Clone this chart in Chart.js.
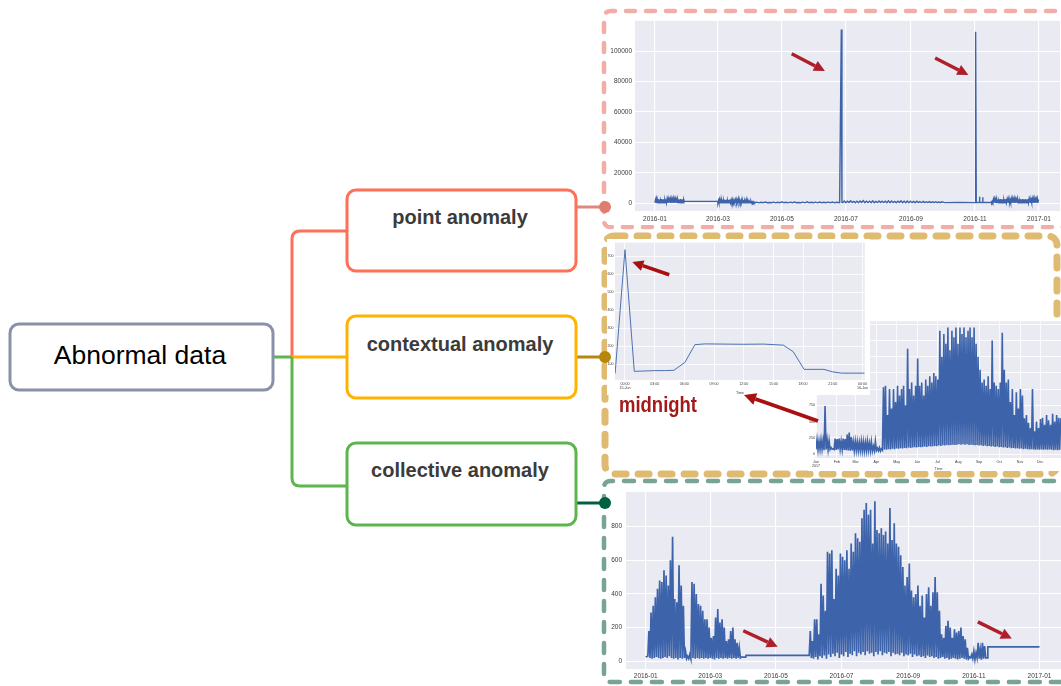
<!DOCTYPE html>
<html>
<head>
<meta charset="utf-8">
<script src="https://cdn.jsdelivr.net/npm/chart.js@4.4.1/dist/chart.umd.min.js"></script>
<style>
html,body{margin:0;padding:0;background:#fff;overflow:hidden}
#stage{position:relative;width:1061px;height:686px;overflow:hidden;font-family:"Liberation Sans",Arial,sans-serif}
svg,canvas{position:absolute}
canvas{background:#fff}
</style>
</head>
<body>
<div id="stage">
<svg id="base" width="1061" height="686" style="left:0;top:0">
  <g fill="none" stroke-linecap="round">
    <path d="M1075 11 H611 Q604 11 604 18 V220 Q604 227 611 227 H1075" stroke="#f2aea6" stroke-width="4.5" stroke-dasharray="9 11"/>
    <rect x="605" y="236" width="452" height="238" rx="9" stroke="#dfbb72" stroke-width="7" stroke-dasharray="11 12"/>
    <path d="M1075 481 H611 Q604 481 604 488 V675 Q604 682 611 682 H1075" stroke="#79a494" stroke-width="4.5" stroke-dasharray="10 11"/>
  </g>
  <g fill="none" stroke-width="3">
    <path d="M273 357 H292" stroke="#5db54d"/>
    <path d="M292 357 V239 Q292 231 300 231 H347" stroke="#ff705a"/>
    <path d="M292 357 H347" stroke="#ffb300"/>
    <path d="M292 357 V478 Q292 486 300 486 H347" stroke="#5db54d"/>
    <path d="M576 207 H605" stroke="#e2877b"/>
    <path d="M576 357 H605" stroke="#b8860b"/>
    <path d="M576 503 H605" stroke="#00603f"/>
  </g>
  <g stroke-width="3" fill="#fff">
    <rect x="10" y="324" width="263" height="66" rx="9" stroke="#8891a8"/>
    <rect x="347" y="190" width="229" height="81" rx="9" stroke="#ff7059"/>
    <rect x="347" y="316" width="229" height="82" rx="9" stroke="#ffb300"/>
    <rect x="347" y="443" width="229" height="82" rx="9" stroke="#5db54d"/>
  </g>
  <g font-family="Liberation Sans, Arial, sans-serif" text-anchor="middle">
    <text x="140" y="364" font-size="26.5" fill="#000">Abnormal data</text>
    <g font-size="20" font-weight="bold" fill="#3b3b3b">
      <text x="460" y="224">point anomaly</text>
      <text x="460" y="351">contextual anomaly</text>
      <text x="460" y="477">collective anomaly</text>
    </g>
  </g>
</svg>
<canvas id="c1" width="453" height="211" style="left:608px;top:14px"></canvas>
<canvas id="c3" width="253" height="153" style="left:808px;top:318px"></canvas>
<canvas id="c2" width="263" height="156" style="left:607px;top:239px"></canvas>
<canvas id="c4" width="453" height="195" style="left:608px;top:484px"></canvas>
<svg id="over" width="1061" height="686" style="left:0;top:0">
  <circle cx="605" cy="207" r="6" fill="#e07d6f"/>
  <circle cx="605" cy="357" r="6" fill="#b8860b"/>
  <circle cx="605" cy="503" r="6" fill="#00603f"/>
  <text x="619" y="412" font-family="Liberation Sans, Arial, sans-serif" font-size="22" font-weight="bold" fill="#a21a1a" textLength="78" lengthAdjust="spacingAndGlyphs">midnight</text>
</svg>
</div>
<script>
// ---- point anomaly (2016, days since 2016-01-01) ----
const pointTickDays = [0,60,121,182,244,305,366]
const pointTickLabels = ['2016-01','2016-03','2016-05','2016-07','2016-09','2016-11','2017-01']
const pointYTicks = [0,20000,40000,60000,80000,100000]
const pointJanPeaks = [2200,2600,1800,2700,2500,1500,2800,2400,2600,2000,2700,2500,2800,2300,2600,2700,2400,2800,2500,2600,2200,2700,2600,2400,2800,2500,2600,2300]
const pointJanLows = [400,300,500,350,300,450,300,400,350,300,500,400,300,350,400,300,450,350,300,400,350,300,450,400,300,350,400,300]
const pointFebLink = [[28,1200],[60,1200]]
const pointMarPeaks = [1800,2200,1500,2000,2400,1700,2300,2100,2500,1600,2200,2400,1900,2300,2000,1500,2100,2300,1800,2600,2200,1400,1900,1700,2100,1500,1200,1600,1400,1000,900,1300,800,1000,700]
const pointMarLows = [300,400,250,300,350,300,250,400,300,350,300,250,400,300,350,300,250,300,350,300,250,300,350,300,250,300,350,300,250,300,300,250,300,250,300]
const pointSpringPeaks = [700,600,800,500,700,600,900,600,700,800,500,700,900,600,700,800,600,700,800,600]
const pointSpringLows = [300,250,300,350,300,250,300,300,250,300,350,300,250,300,300,250,300,350,300,250]
const pointJune = [[176,300],[177.6,114300],[178.2,600]]
const pointSummerPeaks = [1500,1300,1600,1200,1400,1500,1700,1300,1400,1600,1200,1500,1400,1300,1600,1500,1200,1400,1600,1300,1500,1400,1200,1300,1100,1200,1000,1100,900,1000,800,900]
const pointSummerLows = [400,350,450,400,350,400,450,350,400,400,350,400,450,400,350,400,400,350,450,400,350,400,400,350,400,350,400,350,400,350,400,350]
const pointAutumn = [[276,400],[290,450],[305,400],[305.6,112800],[306.2,500],[309,500],[309.3,4200],[309.6,500],[312,500],[312.3,4000],[312.6,500],[318,500]]
const pointDecPeaks = [900,1200,2400,2600,2200,2700,2500,1500,2600,2800,2400,2700,2000,2600,2800,2300,2500,2700,1800,2600,2800,2400,2700,2500,2200,2800,2600,1600,2700,2500,2800,2400,2600,2700,2300,2800,2500,2600,2000,2700,2600,2800,2400,2500,2700,2300]
const pointDecLows = [400,350,300,400,350,300,450,400,300,350,400,300,350,400,300,450,350,300,400,350,300,400,350,300,450,400,300,350,400,300,350,400,300,450,350,300,400,350,300,400,350,300,400,350,300,400]
const pointArrows = [[130.3,98300,162,87000],[267,95500,298.7,84400]]

// ---- contextual anomaly, one day (hours) ----
const dayTickHours = [0,3,6,9,12,15,18,21,24]
const dayTickLabels = [['00:00','15-Jun'],'03:00','06:00','09:00','12:00','15:00','18:00','21:00',['00:00','16-Jun']]
const dayYTicks = [100,200,300,400,500,600,700]
const dayLoad = [[-1,50],[0,736],[0.94,62],[2,64],[3,66],[4,66],[4.95,68],[6.06,112],[7.07,210],[8.08,214],[10,213],[12,212],[14,213],[16,207],[17,171],[18.1,73],[20.1,73],[21,59],[21.9,52],[24.2,52]]
const dayArrows = [[4.47,597,0.74,668]]

// ---- contextual anomaly, whole year 2017 (days) ----
const yearTickDays = [0,31,59,90,120,151,181,212,243,273,304,334]
const yearTickLabels = [['Jan','2017'],'Feb','Mar','Apr','May','Jun','Jul','Aug','Sep','Oct','Nov','Dec']
const yearYTicks = [0,250,500,750,1000,1250,1500,1750,2000]
const yearPeaks = [220,200,220,210,740,220,210,100,80,240,230,240,200,240,230,300,330,260,190,200,190,180,200,190,180,200,170,190,120,200,90,100,80,
  1030,1050,600,1000,700,1000,800,1050,900,1000,1050,750,1620,1000,1100,900,1050,1470,1050,1100,900,1150,1050,1200,1100,1250,1200,1150,
  1900,1500,1850,1700,1950,1600,1900,1800,1950,1700,1950,1850,1950,1800,1900,1950,1800,1950,1700,1500,1300,1100,1150,1050,1200,1000,1750,1100,1050,1000,
  1100,1870,1300,1100,1150,800,1000,600,950,700,1000,900,550,600,480,400,1000,350,500,400,540,560,450,600,520,450,620,500,600,560,550]
const yearLows = [70,65,70,75,60,70,65,70,75,70,65,70,75,70,65,60,55,50,55,50,55,50,55,50,45,50,55,50,45,50,55,50,45,
  60,70,65,75,70,80,75,85,80,90,85,95,90,100,95,100,105,100,110,105,110,115,110,120,115,120,125,120,
  130,125,135,130,140,135,140,145,140,145,150,145,150,145,150,140,145,140,135,140,130,135,125,130,120,125,115,120,110,115,
  105,110,100,105,95,100,90,95,85,90,80,85,75,80,75,70,75,70,65,70,65,70,65,70,65,70,65,60,65,60,65]

// ---- collective anomaly (2016, days) ----
const collStart = [[0,25],[1,28]]
const collWinterPeaks = [180,290,330,380,430,480,470,540,510,450,600,740,370,350,570,450,330,60,30,40,470,460,400,340,330,300,250,250,200,140,150,260,310,230,250,200,120,130,180,200,130,110,80,25]
const collWinterLows = [30,20,15,20,25,20,15,20,25,20,30,20,15,20,10,20,15,20,15,15,15,20,15,20,15,20,15,20,15,20,15,10,20,15,20,15,20,15,20,15,20,15,20,20]
const collSpringGap = [[89.5,25],[93,25],[93.3,35],[151,35]]
const collSummerPeaks = [180,120,250,250,160,460,390,300,650,640,660,370,550,510,640,620,600,660,550,700,650,760,730,710,850,900,940,870,900,700,950,780,760,790,750,770,700,910,720,820,700,680,630,560,450,500,580,420,380,400,450,330,390,260,400,440,330,410,500,410,300,160,140,210,240,200,140,190,170,180,200,150,130,80,25,40,60,50,110,70,110,90,20]
const collSummerLows = [35,20,15,25,10,30,20,35,15,40,25,45,30,50,20,40,30,55,25,45,35,60,30,50,40,55,35,60,45,50,30,55,40,60,35,50,45,55,30,50,40,45,35,50,30,40,35,45,25,40,30,35,25,30,20,35,25,30,20,25,15,20,25,15,20,10,15,20,15,10,15,20,15,10,15,20,15,10,20,15,10,15,20]
const collTail = [[317.5,20],[318,85],[366,85]]
const collYTicks = [0,200,400,600,800]
const collArrows = [[90.7,181,122.7,86],[308.7,234,340.3,135]]

const LINE = '#3d63aa'
const TICK = '#3a3a3a'
const FONT = 'Liberation Sans, Arial, sans-serif'

function pairs(list){ return list.map(p=>({x:p[0],y:p[1]})) }
function spikes(start,step,peaks,lows){
  const out=[]
  peaks.forEach((p,i)=>{
    out.push({x:start+step*i,y:lows[i]})
    out.push({x:start+step*i+step/2,y:p})
  })
  return out
}

const plotBg = {
  id:'plotBg',
  beforeDraw(chart){
    const a=chart.chartArea, c=chart.ctx
    c.save(); c.fillStyle='#eaeaf2'; c.fillRect(a.left,a.top,a.right-a.left,a.bottom-a.top); c.restore()
  }
}

function drawArrow(c,x1,y1,x2,y2,color,w,hl,hw){
  const dx=x2-x1, dy=y2-y1, len=Math.hypot(dx,dy), ux=dx/len, uy=dy/len
  const bx=x2-ux*hl, by=y2-uy*hl
  c.save()
  c.strokeStyle=color; c.fillStyle=color; c.lineWidth=w; c.lineCap='butt'
  c.beginPath(); c.moveTo(x1,y1); c.lineTo(bx,by); c.stroke()
  c.beginPath(); c.moveTo(x2,y2); c.lineTo(bx-uy*hw,by+ux*hw); c.lineTo(bx+uy*hw,by-ux*hw); c.closePath(); c.fill()
  c.restore()
}

function arrowPlugin(list,color,w){
  return {
    id:'arrows',
    afterDatasetsDraw(chart){
      const xs=chart.scales.x, ys=chart.scales.y
      list.forEach(a=>{
        drawArrow(chart.ctx,xs.getPixelForValue(a[0]),ys.getPixelForValue(a[1]),xs.getPixelForValue(a[2]),ys.getPixelForValue(a[3]),color,w,11,5.5)
      })
    }
  }
}

function axes(o){
  return {
    x:{type:'linear',min:o.xmin,max:o.xmax,
      afterBuildTicks:s=>{s.ticks=o.xticks.map(v=>({value:v}))},
      afterFit:s=>{s.height=o.xh},
      ticks:{callback:(v,i)=>o.xlabels[i],font:{size:o.fs,family:FONT},color:TICK,padding:o.xpad,maxRotation:0,autoSkip:false},
      title:o.title?{display:true,text:'Time',font:{size:o.fs,family:FONT},color:TICK,padding:0}:{display:false},
      grid:{color:'#ffffff',lineWidth:o.gw,drawTicks:false},border:{display:false}},
    y:{min:o.ymin,max:o.ymax,
      afterBuildTicks:s=>{s.ticks=o.yticks.map(v=>({value:v}))},
      afterFit:s=>{s.width=o.yw},
      ticks:{callback:v=>String(v),font:{size:o.fs,family:FONT},color:TICK,padding:o.ypad,autoSkip:false},
      grid:{color:'#ffffff',lineWidth:o.gw,drawTicks:false},border:{display:false}}
  }
}

function lineChart(id,data,width,color,pad,scales,extra){
  return new Chart(document.getElementById(id),{
    type:'line',
    data:{datasets:[{data:data,borderColor:color,borderWidth:width,pointRadius:0,tension:0,fill:false}]},
    options:{responsive:false,animation:false,devicePixelRatio:1,
      layout:{padding:pad},
      plugins:{legend:{display:false},tooltip:{enabled:false}},
      scales:scales},
    plugins:[plotBg].concat(extra)
  })
}

const pointData = [].concat(
  spikes(0,1,pointJanPeaks,pointJanLows),
  pairs(pointFebLink),
  spikes(60,1,pointMarPeaks,pointMarLows),
  spikes(95,4,pointSpringPeaks,pointSpringLows),
  pairs(pointJune),
  spikes(179,3,pointSummerPeaks,pointSummerLows),
  pairs(pointAutumn),
  spikes(320,1,pointDecPeaks,pointDecLows)
)
lineChart('c1',pointData,1.4,LINE,{top:2,right:1,left:0,bottom:0},
  axes({xmin:-19,xmax:386,xticks:pointTickDays,xlabels:pointTickLabels,xh:14,xpad:4,
        ymin:-5100,ymax:119900,yticks:pointYTicks,yw:27,ypad:3,fs:6.5,gw:1.1}),
  [arrowPlugin(pointArrows,'#ae1f2a',3.4)])

const yearData = spikes(0,3,yearPeaks,yearLows)
lineChart('c3',yearData,1.6,LINE,{top:2,right:0,left:0,bottom:0},
  axes({xmin:0,xmax:365,xticks:yearTickDays,xlabels:yearTickLabels,xh:13,xpad:2,title:true,
        ymin:-61,ymax:2047,yticks:yearYTicks,yw:8,ypad:1,fs:3.6,gw:0.8}),
  [])

lineChart('c2',pairs(dayLoad),1,'#4c72b0',{top:0,right:5,left:0,bottom:0},
  axes({xmin:-1.01,xmax:24.24,xticks:dayTickHours,xlabels:dayTickLabels,xh:15,xpad:2,title:true,
        ymin:14,ymax:775,yticks:dayYTicks,yw:8,ypad:1.5,fs:3.6,gw:0.8}),
  [arrowPlugin(dayArrows,'#a80f0f',3.6)])

const collData = [].concat(
  pairs(collStart),
  spikes(2,2,collWinterPeaks,collWinterLows),
  pairs(collSpringGap),
  spikes(152,2,collSummerPeaks,collSummerLows),
  pairs(collTail)
)
lineChart('c4',collData,1.7,LINE,{top:1,right:0,left:0,bottom:0},
  axes({xmin:-18.3,xmax:386,xticks:pointTickDays,xlabels:pointTickLabels,xh:10,xpad:3,
        ymin:-46,ymax:1006,yticks:collYTicks,yw:18,ypad:4,fs:6.5,gw:1.1}),
  [arrowPlugin(collArrows,'#ae1f2a',3.4)])

// midnight arrow, drawn over both contextual panels
;(function(){
  const x1=818,y1=421,x2=744,y2=395,hl=12,hw=6
  const dx=x2-x1,dy=y2-y1,len=Math.hypot(dx,dy),ux=dx/len,uy=dy/len
  const bx=x2-ux*hl,by=y2-uy*hl
  const ns='http://www.w3.org/2000/svg', svg=document.getElementById('over')
  const l=document.createElementNS(ns,'line')
  l.setAttribute('x1',x1);l.setAttribute('y1',y1);l.setAttribute('x2',bx);l.setAttribute('y2',by)
  l.setAttribute('stroke','#aa1010');l.setAttribute('stroke-width','3.8')
  svg.appendChild(l)
  const p=document.createElementNS(ns,'polygon')
  p.setAttribute('points',[x2,y2,bx-uy*hw,by+ux*hw,bx+uy*hw,by-ux*hw].join(' '))
  p.setAttribute('fill','#aa1010')
  svg.appendChild(p)
})()
</script>
</body>
</html>
